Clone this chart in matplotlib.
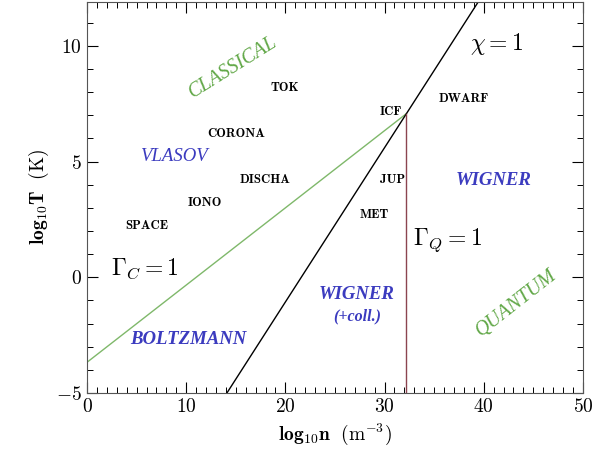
import numpy as np
import matplotlib
matplotlib.use("Agg")
import matplotlib.pyplot as plt
from matplotlib.ticker import MultipleLocator

plt.rcParams['mathtext.fontset'] = 'cm'
plt.rcParams['font.family'] = 'cmr10'
plt.rcParams['axes.formatter.use_mathtext'] = True

# Boundary curves (log10 n, log10 T)
gamma_c_n = [0.0, 32.2]
gamma_c_T = [-3.67, 7.07]
chi_n = [14.1, 39.6]
chi_T = [-5.0, 12.0]
gamma_q_n = [32.2, 32.2]
gamma_q_T = [-5.0, 7.07]

# Plasma examples
plasma_names = ['TOK', 'CORONA', 'DISCHA', 'IONO', 'SPACE', 'ICF', 'DWARF', 'JUP', 'MET']
plasma_n = [19.9, 15.0, 17.9, 11.9, 6.0, 30.6, 38.0, 30.8, 29.0]
plasma_T = [8.2, 6.2, 4.2, 3.2, 2.2, 7.15, 7.7, 4.2, 2.7]

# Regime labels
regime_names = ['VLASOV', 'BOLTZMANN', 'WIGNER', 'WIGNER', '(+coll.)']
regime_n = [8.8, 10.2, 41.0, 27.2, 27.2]
regime_T = [5.2, -2.7, 4.2, -0.75, -1.7]

GREEN_LINE = '#7fb86a'
GREEN_TEXT = '#62a848'
BLUE_TEXT = '#3b3bbf'

fig = plt.figure(figsize=(5.96, 4.63), dpi=100)
ax = fig.add_axes([0.146, 0.151, 0.832, 0.845])

ax.plot(gamma_c_n, gamma_c_T, color=GREEN_LINE, lw=1.0)
ax.plot(chi_n, chi_T, color='black', lw=1.0)
ax.plot(gamma_q_n, gamma_q_T, color='#8b4450', lw=1.0)

for name, n, T in zip(plasma_names, plasma_n, plasma_T):
    ax.text(n, T, name, family='cmb10', fontsize=9.2, ha='center', va='center')

for name, n, T in zip(regime_names, regime_n, regime_T):
    weight = 'normal' if name == 'VLASOV' else 'semibold'
    ax.text(n, T, name, family='Liberation Serif', style='italic', fontweight=weight,
            fontsize=13.5 if name != '(+coll.)' else 11.5, color=BLUE_TEXT, ha='center', va='center')

ax.text(14.7, 9.05, 'CLASSICAL', family='Liberation Serif', style='italic', fontsize=14.5,
        color=GREEN_TEXT, rotation=32, ha='center', va='center')
ax.text(43.3, -1.1, 'QUANTUM', family='Liberation Serif', style='italic', fontsize=14.5,
        color=GREEN_TEXT, rotation=38, ha='center', va='center')

ax.text(5.8, 0.35, r'$\Gamma_C = 1$', fontsize=17, ha='center', va='center')
ax.text(36.3, 1.6, r'$\Gamma_Q = 1$', fontsize=17, ha='center', va='center')
ax.text(41.3, 10.1, r'$\chi = 1$', fontsize=17, ha='center', va='center')

ax.set_xlim(0, 50)
ax.set_ylim(-5, 11.9)
ax.xaxis.set_major_locator(MultipleLocator(10))
ax.xaxis.set_minor_locator(MultipleLocator(1))
ax.yaxis.set_major_locator(MultipleLocator(5))
ax.yaxis.set_minor_locator(MultipleLocator(1))
ax.tick_params(which='both', direction='in', top=True, right=True, labelsize=14)
ax.tick_params(which='major', length=8, width=0.8)
ax.tick_params(which='minor', length=4, width=0.7)
for sp in ax.spines.values():
    sp.set_color('#555555')
    sp.set_linewidth(0.8)

ax.set_xlabel(r'$\mathbf{log_{10}n}\ \ (\mathrm{m}^{-3})$', fontsize=14, labelpad=4)
ax.set_ylabel(r'$\mathbf{log_{10}T}\ \ (\mathrm{K})$', fontsize=14, labelpad=4)

fig.savefig('out.png', dpi=100)
